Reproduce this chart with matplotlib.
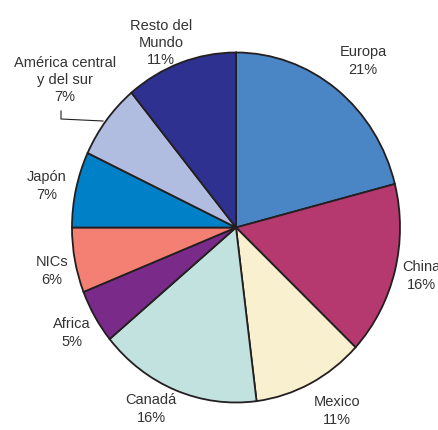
import matplotlib.pyplot as plt
from matplotlib.lines import Line2D

regions = ["Europa", "China", "Mexico", "Canadá", "Africa", "NICs", "Japón",
           "América central\ny del sur", "Resto del\nMundo"]
shares = [21, 16, 11, 16, 5, 6, 7, 7, 11]
colors = ["#4a86c5", "#b5386f", "#f8f0cf", "#c2e2df", "#7a2a88",
          "#f48073", "#0080c6", "#b0bde0", "#2e3190"]

# label block centres in pixels (x from left, y from top)
label_pos = [(363, 61), (421, 276), (337, 411), (151, 409), (72, 333),
             (52, 271), (47, 186), (65, 80), (161, 43)]

W, H = 438, 431
CX, CY, RX, RY = 236, 228.5, 164, 175


def plotChart():
    fig = plt.figure(figsize=(W / 100, H / 100), dpi=100)
    ax = fig.add_axes([0, 0, 1, 1])
    ax.pie(shares, colors=colors, startangle=90, counterclock=False,
           wedgeprops={"linewidth": 1.3, "edgecolor": "#231f20"})
    # stretch the pie a little taller than wide
    ax.set_aspect("auto")
    ax.set_xlim(-CX / RX, (W - CX) / RX)
    ax.set_ylim(-(H - CY) / RY, CY / RY)
    ax.axis("off")

    for name, val, (px, py) in zip(regions, shares, label_pos):
        fig.text(px / W, 1 - py / H, "%s\n%d%%" % (name, val),
                 ha="center", va="center", fontsize=10.5,
                 family="Liberation Sans", color="#333333",
                 linespacing=1.3)

    # leader line for América central
    xs = [61, 61, 103]
    ys = [112, 120, 122]
    fig.add_artist(Line2D([x / W for x in xs], [1 - y / H for y in ys],
                          color="#231f20", linewidth=0.8))

    fig.savefig("out.png", dpi=100)


def main():
    plotChart()

if __name__ == "__main__":
    main()
